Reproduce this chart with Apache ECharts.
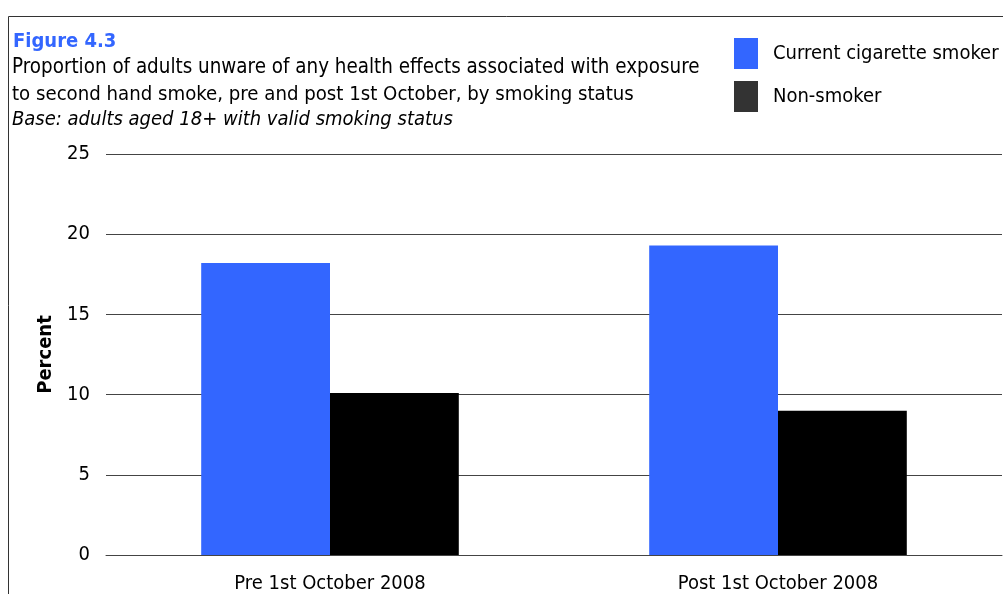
<!DOCTYPE html>
<html><head><meta charset="utf-8">
<script src="https://cdn.jsdelivr.net/npm/echarts@6/dist/echarts.min.js"></script>
<style>html,body{margin:0;padding:0;background:#fff}#c{width:1003px;height:594px}</style>
</head><body><div id="c"></div>
<script>
var categories = ['Pre 1st October 2008', 'Post 1st October 2008'];
var smokerValues = [18.2, 19.3];
var nonSmokerValues = [10.1, 9.0];
var seriesNames = ['Current cigarette smoker', 'Non-smoker'];
var yTicks = [0, 5, 10, 15, 20, 25];

var FONT = '"DejaVu Sans Condensed", "DejaVu Sans", sans-serif';
var chart = echarts.init(document.getElementById('c'), null, {renderer: 'canvas'});
chart.setOption({
  animation: false,
  textStyle: {fontFamily: FONT},
  grid: {left: 106, right: 1, top: 154, bottom: 36, containLabel: false},
  graphic: [
    {type: 'rect', shape: {x: 8.5, y: 16.5, width: 1100, height: 700}, style: {fill: 'none', stroke: '#333', lineWidth: 1}, silent: true},
    {type: 'text', left: 13, top: 32, style: {text: 'Figure 4.3', fill: '#3366ff', font: 'bold 20px ' + FONT}},
    {type: 'text', left: 12, top: 58, style: {text: 'Proportion of adults unware of any health effects associated with exposure', fill: '#000', font: '20.4px ' + FONT}},
    {type: 'text', left: 12, top: 85, style: {text: 'to second hand smoke, pre and post 1st October, by smoking status', fill: '#000', font: '20.2px ' + FONT}},
    {type: 'text', left: 12, top: 110, style: {text: 'Base: adults aged 18+ with valid smoking status', fill: '#000', font: 'italic 20px ' + FONT}}
  ],
  legend: {
    orient: 'vertical', left: 729, top: 33, itemWidth: 24, itemHeight: 31, itemGap: 12,
    textStyle: {fontSize: 20, fontFamily: FONT, color: '#000', padding: [0, 0, 0, 10]},
    data: [
      {name: seriesNames[0], icon: 'rect', itemStyle: {color: '#3366ff'}},
      {name: seriesNames[1], icon: 'rect', itemStyle: {color: '#333333'}}
    ]
  },
  xAxis: {
    type: 'category', data: categories,
    axisLine: {show: true, lineStyle: {color: '#444', width: 1}},
    axisTick: {show: false},
    axisLabel: {color: '#000', fontSize: 20, fontFamily: FONT, margin: 19}
  },
  yAxis: {
    type: 'value', min: yTicks[0], max: yTicks[yTicks.length - 1], interval: 5,
    name: 'Percent', nameLocation: 'middle', nameGap: 48, nameRotate: 90,
    nameTextStyle: {fontSize: 20, fontWeight: 'bold', color: '#000', fontFamily: FONT},
    axisLine: {show: false}, axisTick: {show: false},
    axisLabel: {color: '#000', fontSize: 20, fontFamily: FONT, margin: 16, padding: [4, 0, 0, 0]},
    splitLine: {show: true, lineStyle: {color: '#444', width: 1}}
  },
  series: [
    {name: seriesNames[0], type: 'bar', data: smokerValues, barGap: '0%', barCategoryGap: '42.5%', itemStyle: {color: '#3366ff'}},
    {name: seriesNames[1], type: 'bar', data: nonSmokerValues, itemStyle: {color: '#000000'}}
  ]
});
</script></body></html>
